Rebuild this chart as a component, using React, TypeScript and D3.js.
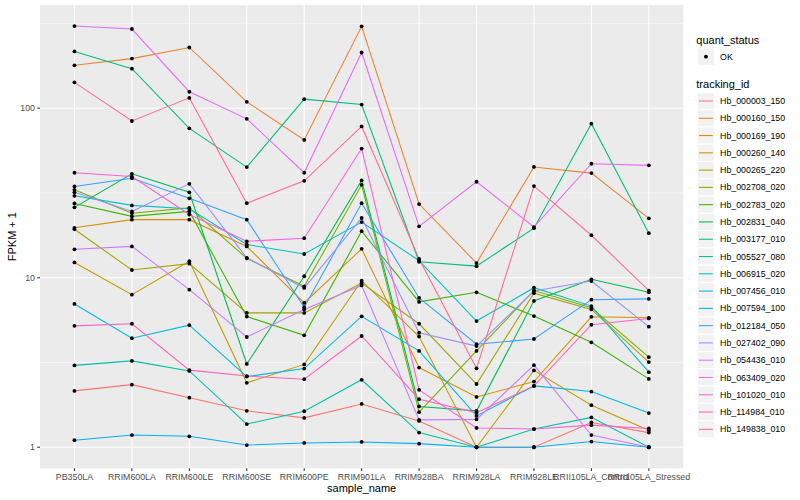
import React from 'react';
import * as d3 from 'd3';

// sample columns on the x axis
const sampleNames = [
  'PB350LA', 'RRIM600LA', 'RRIM600LE', 'RRIM600SE', 'RRIM600PE', 'RRIM901LA',
  'RRIM928BA', 'RRIM928LA', 'RRIM928LE', 'RRII105LA_Control', 'RRII105LA_Stressed'
];

const trackingIds = [
  'Hb_000003_150', 'Hb_000160_150', 'Hb_000169_190', 'Hb_000260_140', 'Hb_000265_220',
  'Hb_002708_020', 'Hb_002783_020', 'Hb_002831_040', 'Hb_003177_010', 'Hb_005527_080',
  'Hb_006915_020', 'Hb_007456_010', 'Hb_007594_100', 'Hb_012184_050', 'Hb_027402_090',
  'Hb_054436_010', 'Hb_063409_020', 'Hb_101020_010', 'Hb_114984_010', 'Hb_149838_010'
];

// ggplot default hue palette for 20 groups
const hueColors = [
  '#F8766D', '#EA8331', '#D89000', '#C09B00', '#A3A500', '#7CAE00', '#39B600', '#00BB4E',
  '#00BF7D', '#00C1A3', '#00BFC4', '#00BAE0', '#00B0F6', '#35A2FF', '#9590FF', '#C77CFF',
  '#E76BF3', '#FA62DB', '#FF62BC', '#FF6C91'
];

// FPKM + 1, one row per tracking id, one column per sample
const fpkmPlusOne = [
  [2.15, 2.34, 1.96, 1.64, 1.49, 1.8, 1.43, 1.0, 1.0, 1.4, 1.22],
  [179, 196, 228, 109, 65, 304, 27.2, 12.2, 45, 41.4, 22.4],
  [19.7, 22, 22, 15.3, 7.1, 14.8, 2.95, 1.98, 2.44, 5.88, 5.8],
  [12.3, 7.94, 12.5, 2.4, 3.08, 9.6, 4.5, 1.0, 2.84, 1.77, 1.26],
  [19.3, 11.1, 12.1, 6.2, 6.2, 9.3, 5.35, 2.36, 8.1, 6.5, 3.18],
  [33, 24, 25.8, 13.0, 8.9, 35.3, 1.61, 3.7, 8.4, 6.65, 3.4],
  [27.4, 23, 24.6, 5.9, 4.57, 18.8, 7.2, 8.2, 5.94, 4.16, 2.53],
  [26, 41, 31.9, 3.1, 10.2, 37.5, 1.74, 1.64, 7.3, 9.78, 8.2],
  [216, 171, 76, 44.9, 113, 105, 12.4, 11.7, 19.6, 81, 18.3],
  [3.04, 3.23, 2.82, 1.37, 1.63, 2.5, 1.22, 1.0, 1.28, 1.5, 1.0],
  [30.4, 26.7, 25.5, 15.7, 13.8, 21.3, 12.6, 5.55, 8.73, 6.8, 2.77],
  [7.0, 4.4, 5.25, 2.61, 2.91, 5.92, 3.7, 1.53, 2.3, 2.13, 1.59],
  [1.1, 1.18, 1.16, 1.03, 1.06, 1.075, 1.05, 1.0, 1.0, 1.08, 1.0],
  [34.5, 38.6, 29.4, 22, 6.7, 27.5, 7.6, 4.05, 4.35, 7.42, 7.5],
  [31.9, 24.6, 35.8, 13.1, 8.7, 22.5, 4.74, 3.95, 8.34, 9.55, 5.14],
  [14.7, 15.3, 8.5, 4.47, 6.5, 9.0, 1.45, 1.46, 3.05, 1.18, 1.0],
  [305, 293, 125, 86.5, 41.6, 213, 20.1, 36.8, 19.9, 47, 46],
  [41.6, 39.5, 23.6, 16.4, 17.1, 57.8, 2.18, 1.3, 1.28, 1.35, 1.29],
  [5.2, 5.35, 2.85, 2.63, 2.52, 4.53, 1.92, 1.6, 2.3, 5.28, 5.75],
  [142, 84, 115, 27.5, 37.3, 78, 12.9, 2.92, 34.7, 17.8, 8.4]
];

const yBreaks = [1, 10, 100];
const yMinorBreaks = [Math.sqrt(10), Math.sqrt(1000), Math.sqrt(100000)];
const quantStatus = ['OK'];

const WIDTH = 800;
const HEIGHT = 500;
const panel = { left: 40, right: 683.3, top: 5, bottom: 468.3 };
const FONT = '"Liberation Sans", Arial, Helvetica, sans-serif';

export default function App() {
  const x = d3.scalePoint<string>()
    .domain(sampleNames)
    .range([panel.left, panel.right])
    .padding(0.6);

  // log10 scale with ggplot's 5% expansion
  const allVals = fpkmPlusOne.flat();
  const lo = Math.log10(d3.min(allVals) as number);
  const hi = Math.log10(d3.max(allVals) as number);
  const pad = (hi - lo) * 0.05;
  const y = d3.scaleLog()
    .domain([Math.pow(10, lo - pad), Math.pow(10, hi + pad)])
    .range([panel.bottom, panel.top]);

  const line = d3.line<number>()
    .x((_d, i) => x(sampleNames[i]) as number)
    .y(d => y(d));

  const legendX = 697.3;
  const keySize = 17.28;
  const okCenter = 56.7;
  const firstKeyCenter = 101;

  return (
    <div style={{ position: 'fixed', left: 0, top: 0 }}>
      <svg width={WIDTH} height={HEIGHT} style={{ display: 'block', fontFamily: FONT }}>
        <rect width={WIDTH} height={HEIGHT} fill="#ffffff" />
        {/* panel */}
        <rect x={panel.left} y={panel.top} width={panel.right - panel.left}
          height={panel.bottom - panel.top} fill="#EBEBEB" />
        {yMinorBreaks.filter(v => y(v) > panel.top).map(v => (
          <line key={'ym' + v} x1={panel.left} x2={panel.right} y1={y(v)} y2={y(v)}
            stroke="#ffffff" strokeWidth={0.53} />
        ))}
        {yBreaks.map(v => (
          <line key={'y' + v} x1={panel.left} x2={panel.right} y1={y(v)} y2={y(v)}
            stroke="#ffffff" strokeWidth={1.07} />
        ))}
        {sampleNames.map(s => (
          <line key={'x' + s} x1={x(s)} x2={x(s)} y1={panel.top} y2={panel.bottom}
            stroke="#ffffff" strokeWidth={1.07} />
        ))}

        {/* lines */}
        {fpkmPlusOne.map((vals, i) => (
          <path key={trackingIds[i]} d={line(vals) || ''} fill="none"
            stroke={hueColors[i]} strokeWidth={1.07} />
        ))}
        {/* points */}
        {fpkmPlusOne.map((vals, i) => vals.map((v, j) => (
          <circle key={trackingIds[i] + j} cx={x(sampleNames[j])} cy={y(v)} r={1.9} fill="#000000" />
        )))}

        {/* y axis */}
        {yBreaks.map(v => (
          <g key={'yt' + v}>
            <line x1={panel.left - 2.75} x2={panel.left} y1={y(v)} y2={y(v)} stroke="#333333" strokeWidth={1.07} />
            <text x={panel.left - 5} y={y(v)} dy="0.35em" textAnchor="end" fontSize={8.8} fill="#4D4D4D">{v}</text>
          </g>
        ))}
        {/* x axis */}
        {sampleNames.map(s => (
          <g key={'xt' + s}>
            <line x1={x(s)} x2={x(s)} y1={panel.bottom} y2={panel.bottom + 2.75} stroke="#333333" strokeWidth={1.07} />
            <text x={x(s)} y={panel.bottom + 12} textAnchor="middle" fontSize={8.8} fill="#4D4D4D">{s}</text>
          </g>
        ))}
        <text x={(panel.left + panel.right) / 2} y={492} textAnchor="middle" fontSize={11} fill="#000000">sample_name</text>
        <text transform={`translate(16,${(panel.top + panel.bottom) / 2}) rotate(-90)`} textAnchor="middle"
          fontSize={11} fill="#000000">FPKM + 1</text>

        {/* legend: quant_status */}
        <text x={legendX - 1} y={43.5} fontSize={11} fill="#000000">quant_status</text>
        {quantStatus.map((q, i) => (
          <g key={q}>
            <rect x={legendX} y={okCenter - keySize / 2 + i * keySize} width={keySize} height={keySize}
              fill="#F2F2F2" stroke="#ffffff" strokeWidth={1.07} />
            <circle cx={legendX + keySize / 2} cy={okCenter + i * keySize} r={1.9} fill="#000000" />
            <text x={legendX + keySize + 5.5} y={okCenter + i * keySize} dy="0.35em" fontSize={8.8} fill="#000000">{q}</text>
          </g>
        ))}

        {/* legend: tracking_id */}
        <text x={legendX - 1} y={87.5} fontSize={11} fill="#000000">tracking_id</text>
        {trackingIds.map((id, i) => {
          const cy = firstKeyCenter + i * keySize;
          return (
            <g key={'lg' + id}>
              <rect x={legendX} y={cy - keySize / 2} width={keySize} height={keySize}
                fill="#F2F2F2" stroke="#ffffff" strokeWidth={1.07} />
              <line x1={legendX + 1.7} x2={legendX + keySize - 1.7} y1={cy} y2={cy}
                stroke={hueColors[i]} strokeWidth={1.07} />
              <text x={legendX + keySize + 5.5} y={cy} dy="0.35em" fontSize={8.8} fill="#000000">{id}</text>
            </g>
          );
        })}
      </svg>
    </div>
  );
}
